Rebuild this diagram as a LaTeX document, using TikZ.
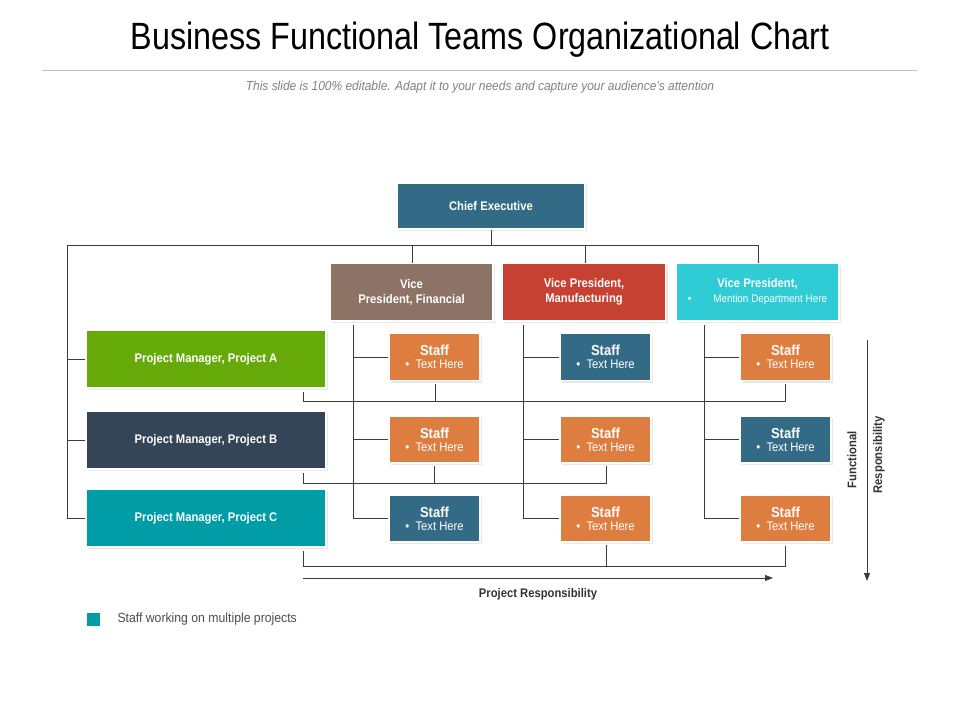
\documentclass[tikz,border=0pt]{standalone}
\usepackage{fontspec}
\setmainfont{Liberation Sans}
\usetikzlibrary{shadows,arrows.meta}
\definecolor{cblue}{RGB}{51,107,135}
\definecolor{cbrown}{RGB}{141,115,101}
\definecolor{cred}{RGB}{199,65,50}
\definecolor{ccyan}{RGB}{47,204,214}
\definecolor{cgreen}{RGB}{102,170,10}
\definecolor{cdark}{RGB}{52,69,87}
\definecolor{cteal}{RGB}{0,157,166}
\definecolor{corange}{RGB}{221,125,63}
\definecolor{cline}{RGB}{60,60,60}
\tikzset{
 box/.style={draw=white,line width=1.5pt,text=white,font=\bfseries\fontsize{12.5}{15}\selectfont\addfontfeature{FakeStretch=0.9},align=center,inner sep=0pt,
   drop shadow={shadow xshift=2pt,shadow yshift=-2pt,fill=black!18}},
 vpbox/.style={box,minimum width=163pt,minimum height=58pt},
 pmbox/.style={box,minimum width=240pt,minimum height=58pt},
 sbox/.style={box,minimum width=91pt,minimum height=47pt},
 conn/.style={draw=cline,line width=0.8pt},
 arr/.style={conn,-{Triangle[length=8pt,width=6pt]}}
}
\newcommand{\stafftext}{{\fontsize{14.5}{15}\selectfont Staff}\\[-2pt]{\mdseries\fontsize{12.5}{13}\selectfont\addfontfeature{FakeStretch=0.9}\textbullet\enspace Text Here}}
\begin{document}
\begin{tikzpicture}[x=1pt,y=-1pt]
\useasboundingbox (0,0) rectangle (960,720);
\node (title) at (480,40) {\fontsize{38}{42}\selectfont\addfontfeature{FakeStretch=0.85}Business Functional Teams Organizational Chart};
\draw[black!25,line width=0.8pt] (42,70) -- (917,70);
\node[text=black!50,font=\itshape\fontsize{13}{15}\selectfont\addfontfeature{FakeStretch=0.92}] (sub) at (480,87) {This slide is 100\% editable. Adapt it to your needs and capture your audience's attention};

\node[box,fill=cblue,minimum width=188pt,minimum height=46pt] (ceo) at (491,206) {Chief Executive};
\node[vpbox,fill=cbrown] (vp1) at (411.5,292) {Vice\\President, Financial};
\node[vpbox,fill=cred] (vp2) at (584,292) {Vice President,\\Manufacturing};
\node[vpbox,fill=ccyan] (vp3) at (757.5,292) {Vice President,\\{\mdseries\fontsize{11}{13}\selectfont\addfontfeature{FakeStretch=0.9}\textbullet\qquad Mention Department Here}};
\node[pmbox,fill=cgreen] (pa) at (206,359) {Project Manager, Project A};
\node[pmbox,fill=cdark] (pb) at (206,440) {Project Manager, Project B};
\node[pmbox,fill=cteal] (pc) at (206,518) {Project Manager, Project C};

\node[sbox,fill=corange] (s11) at (434.5,357) {\stafftext};
\node[sbox,fill=corange] (s12) at (434.5,439.5) {\stafftext};
\node[sbox,fill=cblue] (s13) at (434.5,518.5) {\stafftext};
\node[sbox,fill=cblue] (s21) at (605.5,357) {\stafftext};
\node[sbox,fill=corange] (s22) at (605.5,439.5) {\stafftext};
\node[sbox,fill=corange] (s23) at (605.5,518.5) {\stafftext};
\node[sbox,fill=corange] (s31) at (785.5,357) {\stafftext};
\node[sbox,fill=cblue] (s32) at (785.5,439.5) {\stafftext};
\node[sbox,fill=corange] (s33) at (785.5,518.5) {\stafftext};

\coordinate (tl) at (67,245);
\draw[conn] (ceo.south) -- (491,245);
\draw[conn] (tl) -- (758,245);
\draw[conn] (412,245) -- (412,263);
\draw[conn] (585,245) -- (585,263);
\draw[conn] (758,245) -- (758,263);
\draw[conn] (tl) |- (pc.west);
\draw[conn] (67,359) -- (pa.west);
\draw[conn] (67,440) -- (pb.west);

\draw[conn] (353,325) |- (s13.west);
\draw[conn] (353,357) -- (s11.west);
\draw[conn] (353,439.5) -- (s12.west);
\draw[conn] (523,325) |- (s23.west);
\draw[conn] (523,357) -- (s21.west);
\draw[conn] (523,439.5) -- (s22.west);
\draw[conn] (704,325) |- (s33.west);
\draw[conn] (704,357) -- (s31.west);
\draw[conn] (704,439.5) -- (s32.west);

\draw[conn] (303,392) |- (785,401) -- (785,384);
\draw[conn] (435,384) -- (435,401);
\draw[conn] (303,473) |- (606,483) -- (606,466);
\draw[conn] (434,466) -- (434,483);
\draw[conn] (303,551) |- (785,566) -- (785,546);
\draw[conn] (606,545) -- (606,566);

\coordinate (pr0) at (303,578);
\coordinate (pr1) at (773,578);
\draw[arr] (pr0) -- (pr1);
\node[font=\bfseries\fontsize{12.5}{15}\selectfont\addfontfeature{FakeStretch=0.9},text=black!80] (prl) at (538,594) {Project Responsibility};
\coordinate (fr0) at (867,340);
\coordinate (fr1) at (867,581);
\draw[arr] (fr0) -- (fr1);
\node[rotate=90,font=\bfseries\fontsize{12.5}{15}\selectfont\addfontfeature{FakeStretch=0.9},text=black!80] (frl1) at (852,460) {Functional};
\node[rotate=90,font=\bfseries\fontsize{12.5}{15}\selectfont\addfontfeature{FakeStretch=0.9},text=black!80] (frl2) at (879,455) {Responsibility};

\node[fill=cteal,minimum size=13pt,inner sep=0pt] (leg) at (93,619) {};
\node[anchor=west,text=black!70,font=\fontsize{13.3}{15}\selectfont\addfontfeature{FakeStretch=0.92}] (legt) at (114,619) {Staff working on multiple projects};
\end{tikzpicture}
\end{document}
